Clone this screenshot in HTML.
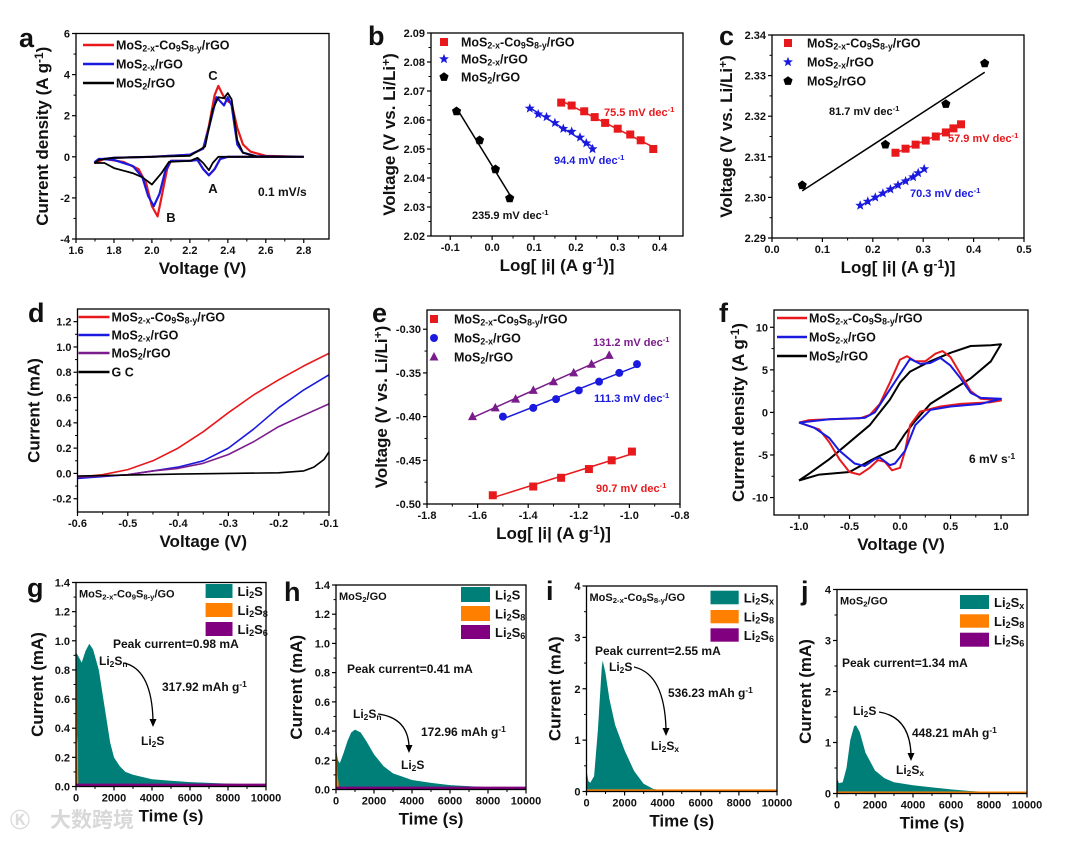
<!DOCTYPE html>
<html><head><meta charset="utf-8"><style>
html,body{margin:0;padding:0;background:#fff;}
svg{display:block;font-family:"Liberation Sans",Arial,sans-serif;font-weight:bold;}
</style></head><body>
<svg id="fig" width="1080" height="842" viewBox="0 0 1080 842" xmlns="http://www.w3.org/2000/svg"></svg>
<script>
// ---------- DATA ----------
// panel a: CV at 0.1 mV/s
const aRedV=[2.8,2.4,2.36,2.33,2.3,2.27,2.24,2.2,2.1,2.08,2.05,2.03,2.0,1.97,1.93,1.85,1.75,1.7,1.72,1.8,2.0,2.2,2.27,2.3,2.33,2.35,2.38,2.4,2.42,2.45,2.48,2.52,2.6,2.8];
const aRedI=[0,0,-0.1,-0.6,-0.9,-0.6,-0.15,-0.2,-0.2,-0.6,-2.0,-2.9,-2.4,-1.3,-0.6,-0.25,-0.1,-0.3,-0.15,-0.05,0,0.1,0.4,1.5,3.0,3.45,2.9,2.7,2.6,1.4,0.6,0.25,0.05,0];
const aBlueV=[2.8,2.4,2.36,2.33,2.3,2.27,2.24,2.2,2.1,2.07,2.04,2.01,1.98,1.95,1.9,1.8,1.72,1.7,1.72,1.8,2.0,2.2,2.27,2.3,2.34,2.36,2.38,2.4,2.42,2.45,2.48,2.55,2.8];
const aBlueI=[0,0,-0.1,-0.6,-0.9,-0.6,-0.15,-0.2,-0.2,-0.7,-1.8,-2.4,-1.9,-1.0,-0.45,-0.15,-0.1,-0.25,-0.12,-0.05,0,0.1,0.4,1.4,2.9,2.7,2.5,2.9,2.5,0.6,0.2,0.03,0];
const aBlkV=[2.8,2.35,2.32,2.3,2.27,2.24,2.2,2.09,2.05,2.0,1.95,1.9,1.8,1.75,1.7,1.72,1.8,2.2,2.28,2.32,2.35,2.38,2.4,2.42,2.45,2.48,2.55,2.8];
const aBlkI=[0,0,-0.3,-0.65,-0.3,-0.05,-0.2,-0.25,-0.8,-1.35,-1.0,-0.8,-0.55,-0.3,-0.3,-0.15,-0.05,0.05,0.5,2.3,2.9,2.85,3.1,2.8,0.8,0.2,0.02,0];
// panel b: Tafel
const bBlkX=[-0.085,-0.03,0.008,0.042], bBlkY=[2.063,2.053,2.043,2.033];
const bBluX=[0.09,0.11,0.13,0.15,0.17,0.19,0.21,0.225,0.24], bBluY=[2.064,2.062,2.061,2.059,2.057,2.056,2.054,2.052,2.050];
const bRedX=[0.165,0.19,0.22,0.245,0.27,0.3,0.33,0.355,0.385], bRedY=[2.066,2.065,2.063,2.061,2.059,2.057,2.055,2.053,2.050];
// panel c
const cBlkX=[0.06,0.225,0.345,0.422], cBlkY=[2.303,2.313,2.323,2.333];
const cRedX=[0.245,0.265,0.285,0.305,0.325,0.345,0.36,0.375], cRedY=[2.311,2.312,2.313,2.314,2.315,2.316,2.317,2.318];
const cBluX=[0.175,0.19,0.205,0.22,0.235,0.25,0.265,0.28,0.29,0.302], cBluY=[2.298,2.299,2.300,2.301,2.302,2.303,2.304,2.305,2.306,2.307];
// panel d: LSV
const dV=[-0.6,-0.55,-0.5,-0.45,-0.4,-0.35,-0.3,-0.25,-0.2,-0.15,-0.1];
const dRed=[-0.03,-0.01,0.03,0.1,0.2,0.33,0.48,0.62,0.74,0.85,0.95];
const dBlue=[-0.04,-0.025,-0.01,0.02,0.05,0.1,0.2,0.35,0.52,0.66,0.78];
const dPur=[-0.03,-0.02,-0.01,0.02,0.04,0.08,0.15,0.25,0.37,0.46,0.55];
const dGcV=[-0.6,-0.4,-0.2,-0.15,-0.13,-0.11,-0.1], dGc=[-0.02,-0.005,0.005,0.02,0.05,0.11,0.17];
// panel e
const ePurX=[-1.62,-1.53,-1.45,-1.38,-1.3,-1.22,-1.15,-1.08], ePurY=[-0.40,-0.39,-0.38,-0.37,-0.36,-0.35,-0.34,-0.33];
const eBluX=[-1.5,-1.38,-1.29,-1.2,-1.12,-1.04,-0.97], eBluY=[-0.40,-0.39,-0.38,-0.37,-0.36,-0.35,-0.34];
const eRedX=[-1.54,-1.38,-1.27,-1.16,-1.07,-0.99], eRedY=[-0.49,-0.48,-0.47,-0.46,-0.45,-0.44];
// panel f: symmetric cell CV
const fRedV=[-1.0,-0.9,-0.7,-0.4,-0.3,-0.2,-0.1,0,0.07,0.15,0.25,0.35,0.42,0.5,0.6,0.7,0.8,1.0,0.9,0.6,0.4,0.2,0.1,0.05,0,-0.08,-0.15,-0.22,-0.3,-0.4,-0.5,-0.6,-0.7,-0.8,-1.0];
const fRedI=[-1.2,-0.9,-0.8,-0.7,-0.3,1.0,3.5,6.2,6.6,6.0,6.0,6.9,7.2,6.5,4.5,2.5,1.6,1.4,1.2,1.0,0.7,0.1,-1.5,-4.5,-6.5,-6.8,-5.8,-5.6,-6.5,-7.3,-7.0,-5.5,-3.5,-2.0,-1.2];
const fBluV=[-1.0,-0.7,-0.35,-0.25,-0.15,0,0.1,0.2,0.3,0.4,0.5,0.6,0.7,0.8,1.0,0.8,0.5,0.3,0.15,0.05,-0.05,-0.1,-0.2,-0.25,-0.35,-0.45,-0.6,-0.7,-0.85,-1.0];
const fBluI=[-1.2,-0.8,-0.65,0,1.8,4.5,6.3,5.7,5.8,6.4,5.5,4.0,2.3,1.7,1.6,1.0,0.7,0.3,-1.5,-4.5,-6.0,-6.2,-5.3,-5.5,-6.3,-6.0,-4.5,-3.0,-1.8,-1.2];
const fBlkV=[-1.0,-0.8,-0.5,-0.3,-0.2,-0.05,0.05,0.15,0.3,0.5,0.7,0.9,1.0,0.9,0.7,0.5,0.3,0.2,0.1,0,-0.1,-0.2,-0.3,-0.5,-0.7,-0.9,-1.0];
const fBlkI=[-8.0,-7.3,-7.0,-5.7,-5.1,-4.3,-2.5,-1.0,1.0,2.5,4.0,6.0,8.0,7.9,7.8,7.0,6.0,5.4,4.8,3.5,1.5,0,-1.5,-3.5,-5.5,-7.2,-8.0];
// panels g-j: potentiostatic deposition
const gT=[0,100,300,500,700,900,1200,1500,1800,2000,2300,2600,3000,4000,5000,6000,8000,10000];
const gI=[0.92,0.9,0.85,0.93,0.98,0.94,0.8,0.55,0.3,0.2,0.14,0.1,0.08,0.05,0.04,0.03,0.02,0.01];
const hT=[0,100,200,400,600,800,1000,1300,1600,2000,2500,3000,4000,5000,6000,8000,10000];
const hI=[0.28,0.2,0.18,0.25,0.33,0.39,0.41,0.39,0.33,0.24,0.16,0.11,0.065,0.045,0.03,0.015,0.01];
const iT=[0,100,200,400,600,800,850,1000,1200,1500,2000,2500,3000,3500,4000,5000,10000];
const iI=[0.4,0.2,0.17,0.3,1.2,2.4,2.55,2.3,1.8,1.3,0.8,0.4,0.15,0.05,0.02,0.01,0.01];
const jT=[0,100,300,500,700,900,1000,1200,1500,2000,2500,3000,4000,5000,6000,7000,8000,9000,10000];
const jI=[0.3,0.2,0.22,0.5,1.05,1.32,1.34,1.2,0.8,0.45,0.3,0.22,0.16,0.12,0.08,0.05,0.03,0.01,0];
// tick labels
const aXT=[1.6,1.8,2.0,2.2,2.4,2.6,2.8], aYT=[-4,-2,0,2,4,6];
const bXT=[-0.1,0.0,0.1,0.2,0.3,0.4], bYT=[2.02,2.03,2.04,2.05,2.06,2.07,2.08,2.09];
const cXT=[0.0,0.1,0.2,0.3,0.4,0.5], cYT=[2.29,2.30,2.31,2.32,2.33,2.34];
const dXT=[-0.6,-0.5,-0.4,-0.3,-0.2,-0.1], dYT=[-0.2,0.0,0.2,0.4,0.6,0.8,1.0,1.2];
const eXT=[-1.8,-1.6,-1.4,-1.2,-1.0,-0.8], eYT=[-0.50,-0.45,-0.40,-0.35,-0.30];
const fXT=[-1.0,-0.5,0.0,0.5,1.0], fYT=[-10,-5,0,5,10];
const tXT=[0,2000,4000,6000,8000,10000], ghYT=[0.0,0.2,0.4,0.6,0.8,1.0,1.2,1.4], ijYT=[0,1,2,3,4];

// ---------- HELPERS ----------
const NS='http://www.w3.org/2000/svg';
const svg=document.getElementById('fig');
function mk(tag,attrs,name,inter,parent){
  const el=document.createElementNS(NS,tag);
  for(const k in attrs) el.setAttribute(k,attrs[k]);
  
  
  (parent||svg).appendChild(el);
  return el;
}
function rich(el,str){
  const re=/([_^])\{([^}]*)\}|([^_^]+)/g;let m;
  while((m=re.exec(str))){
    const t=document.createElementNS(NS,'tspan');
    if(m[3]){t.textContent=m[3];}
    else{t.textContent=m[2];t.setAttribute('font-size','70%');t.setAttribute('baseline-shift',m[1]=='_'?'-25%':'45%');}
    el.appendChild(t);
  }
  return el;
}
function txt(x,y,str,size,name,opt){
  opt=opt||{};
  const a={x:x,y:y,'font-size':size,fill:opt.fill||'#111'};
  if(opt.anchor)a['text-anchor']=opt.anchor;
  if(opt.rot)a.transform='rotate(-90 '+x+' '+y+')';
  return rich(mk('text',a,name,false),str);
}
function panel(p){
  const sx=v=>p.L+(v-p.x0)/(p.x1-p.x0)*(p.R-p.L);
  const sy=v=>p.B-(v-p.y0)/(p.y1-p.y0)*(p.B-p.T);
  p.sx=sx;p.sy=sy;
  mk('clipPath',{id:'clip'+p.id},'clip-'+p.id,false).appendChild(Object.assign(document.createElementNS(NS,'rect'),{}));
  const cp=document.getElementById('clip'+p.id).firstChild;
  cp.setAttribute('x',p.L);cp.setAttribute('y',p.T);cp.setAttribute('width',p.R-p.L);cp.setAttribute('height',p.B-p.T);
  p.g=mk('g',{'clip-path':'url(#clip'+p.id+')'},'plot-area-'+p.id,false);
  // ticks
  p.xt.forEach((v,i)=>{
    const x=sx(v);
    mk('line',{x1:x,x2:x,y1:p.B,y2:p.B+4,stroke:'#000','stroke-width':1.2},'x-tick-'+p.id,false);
    txt(x,p.B+15,v.toFixed(p.xd),11,'x-tick-label-'+p.id,{anchor:'middle'});
    if(i<p.xt.length-1){const xm=sx((v+p.xt[i+1])/2);mk('line',{x1:xm,x2:xm,y1:p.B,y2:p.B+2.5,stroke:'#000','stroke-width':1},'x-minor-tick-'+p.id,false);}
  });
  p.yt.forEach((v,i)=>{
    const y=sy(v);
    mk('line',{x1:p.L-4,x2:p.L,y1:y,y2:y,stroke:'#000','stroke-width':1.2},'y-tick-'+p.id,false);
    txt(p.L-6,y+4,v.toFixed(p.yd),11,'y-tick-label-'+p.id,{anchor:'end'});
    if(i<p.yt.length-1){const ym=sy((v+p.yt[i+1])/2);mk('line',{x1:p.L-2.5,x2:p.L,y1:ym,y2:ym,stroke:'#000','stroke-width':1},'y-minor-tick-'+p.id,false);}
  });
  txt((p.L+p.R)/2,p.B+35,p.xl,17,'x-axis-title-'+p.id,{anchor:'middle'});
  txt(p.L-p.yo,(p.T+p.B)/2,p.yl,17,'y-axis-title-'+p.id,{anchor:'middle',rot:true});
  txt(p.lx,p.ly,p.id,27,'panel-label-'+p.id);
  return p;
}
function frame(p){mk('rect',{x:p.L,y:p.T,width:p.R-p.L,height:p.B-p.T,fill:'none',stroke:'#000','stroke-width':1.3},'plot-frame-'+p.id,false);}
function line(p,xs,ys,col,w,name){
  const d=xs.map((v,i)=>(i?'L':'M')+p.sx(v).toFixed(1)+','+p.sy(ys[i]).toFixed(1)).join('');
  return mk('path',{d:d,fill:'none',stroke:col,'stroke-width':w,'stroke-linejoin':'round'},name,false,p.g);
}
function area(p,xs,ys,col,name){
  let d='M'+p.sx(xs[0])+','+p.sy(0);
  xs.forEach((v,i)=>{d+='L'+p.sx(v).toFixed(1)+','+p.sy(ys[i]).toFixed(1);});
  d+='L'+p.sx(xs[xs.length-1])+','+p.sy(0)+'Z';
  return mk('path',{d:d,fill:col},name,false,p.g);
}
function fit(xs,ys){const n=xs.length;let mx=0,my=0;xs.forEach((x,i)=>{mx+=x;my+=ys[i];});mx/=n;my/=n;let sxy=0,sxx=0;xs.forEach((x,i)=>{sxy+=(x-mx)*(ys[i]-my);sxx+=(x-mx)*(x-mx);});const k=sxy/sxx;return x=>my+k*(x-mx);}
function fitLine(p,xs,ys,col,name){const f=fit(xs,ys);const a=Math.min(...xs),b=Math.max(...xs);line(p,[a,b],[f(a),f(b)],col,1.5,name);}
function marker(p,x,y,shape,col,name,px,py){
  const X=px!==undefined?px:p.sx(x),Y=py!==undefined?py:p.sy(y);
  const par=px!==undefined?svg:p.g;
  if(shape=='sq')return mk('rect',{x:X-4,y:Y-4,width:8,height:8,fill:col},name,false,par);
  if(shape=='ci')return mk('circle',{cx:X,cy:Y,r:4,fill:col},name,false,par);
  let pts=[];
  if(shape=='tri')pts=[[0,-5],[4.5,3.5],[-4.5,3.5]];
  if(shape=='pent')for(let k=0;k<5;k++){const a=-Math.PI/2+k*2*Math.PI/5;pts.push([4.8*Math.cos(a),4.8*Math.sin(a)]);}
  if(shape=='star')for(let k=0;k<10;k++){const a=-Math.PI/2+k*Math.PI/5,r=k%2?2.2:5.2;pts.push([r*Math.cos(a),r*Math.sin(a)]);}
  return mk('polygon',{points:pts.map(q=>(X+q[0]).toFixed(1)+','+(Y+q[1]).toFixed(1)).join(' '),fill:col},name,false,par);
}
function legLine(x1,x2,y,col,label,name){mk('line',{x1:x1,x2:x2,y1:y,y2:y,stroke:col,'stroke-width':2.6},name+'-swatch',false);txt(x2+2,y+4.5,label,12.5,name,{});}
function legMark(x,tx,y,shape,col,label,name){marker(null,0,0,shape,col,name+'-marker',x,y);txt(tx,y+4.5,label,12.5,name,{});}
function legBox(x1,x2,y1,y2,col,label,tx,name){mk('rect',{x:x1,y:y1,width:x2-x1,height:y2-y1,fill:col},name+'-swatch',false);txt(tx,(y1+y2)/2+5,label,13,name,{});}
function arrow(x1,y1,x2,y2,name){
  const cx=x1+(x2-x1)*0.95,cy=y1+(y2-y1)*0.1;
  mk('path',{d:'M'+x1+','+y1+' Q'+cx+','+cy+' '+x2+','+(y2-6),fill:'none',stroke:'#000','stroke-width':1.3},name,false);
  mk('polygon',{points:(x2-3.5)+','+(y2-7)+' '+(x2+3.5)+','+(y2-7)+' '+x2+','+(y2+1),fill:'#000'},name+'-head',false);
}
const RED='#e8191c',BLUE='#1a1adf',BLK='#000',PUR='#7b1c8c',TEAL='#007f79',ORA='#ff8000',VIO='#800080';
const L1='MoS_{2-x}-Co_{9}S_{8-y}/rGO',L2='MoS_{2-x}/rGO',L3='MoS_{2}/rGO';
const VLI='Voltage (V vs. Li/Li^{+})',LOGI='Log[ |i| (A g^{-1})]';

// ---------- PANEL A ----------
const pa=panel({id:'a',L:76,R:329,T:33.5,B:239,x0:1.6,x1:2.933,y0:-4,y1:6,xt:aXT,yt:aYT,xd:1,yd:0,xl:'Voltage (V)',yl:'Current density (A g^{-1})',yo:28,lx:19,ly:47});
line(pa,aRedV,aRedI,RED,2.2,'cv-curve-red');
line(pa,aBlueV,aBlueI,BLUE,2.2,'cv-curve-blue');
line(pa,aBlkV,aBlkI,BLK,1.8,'cv-curve-black');
frame(pa);
legLine(83,114,45,RED,L1,'legend-entry-a-1');legLine(83,114,64,BLUE,L2,'legend-entry-a-2');legLine(83,114,83,BLK,L3,'legend-entry-a-3');
txt(213,80,'C',13,'peak-label-c',{anchor:'middle'});txt(213,193,'A',13,'peak-label-a',{anchor:'middle'});txt(171,222,'B',13,'peak-label-b',{anchor:'middle'});
txt(258,196,'0.1 mV/s',12,'scan-rate-label-a');

// ---------- PANEL B ----------
const pb=panel({id:'b',L:431,R:683,T:33,B:236,x0:-0.146,x1:0.456,y0:2.02,y1:2.09,xt:bXT,yt:bYT,xd:1,yd:2,xl:LOGI,yl:VLI,yo:36,lx:368,ly:45});
fitLine(pb,bBlkX,bBlkY,BLK,'fit-line-b-black');fitLine(pb,bBluX,bBluY,BLUE,'fit-line-b-blue');fitLine(pb,bRedX,bRedY,RED,'fit-line-b-red');
bBlkX.forEach((x,i)=>marker(pb,x,bBlkY[i],'pent',BLK,'point-b-black'));
bBluX.forEach((x,i)=>marker(pb,x,bBluY[i],'star',BLUE,'point-b-blue'));
bRedX.forEach((x,i)=>marker(pb,x,bRedY[i],'sq',RED,'point-b-red'));
frame(pb);
legMark(444,461,42,'sq',RED,L1,'legend-entry-b-1');legMark(444,461,59,'star',BLUE,L2,'legend-entry-b-2');legMark(444,461,77,'pent',BLK,L3,'legend-entry-b-3');
txt(604,116,'75.5 mV dec^{-1}',11,'slope-label-b-red',{fill:RED});
txt(554,164,'94.4 mV dec^{-1}',11,'slope-label-b-blue',{fill:BLUE});
txt(472,219,'235.9 mV dec^{-1}',11,'slope-label-b-black');

// ---------- PANEL C ----------
const pc=panel({id:'c',L:772,R:1024,T:35,B:238,x0:0,x1:0.5,y0:2.29,y1:2.34,xt:cXT,yt:cYT,xd:1,yd:2,xl:LOGI,yl:VLI,yo:40,lx:719,ly:45});
fitLine(pc,cBlkX,cBlkY,BLK,'fit-line-c-black');fitLine(pc,cRedX,cRedY,RED,'fit-line-c-red');fitLine(pc,cBluX,cBluY,BLUE,'fit-line-c-blue');
cBlkX.forEach((x,i)=>marker(pc,x,cBlkY[i],'pent',BLK,'point-c-black'));
cRedX.forEach((x,i)=>marker(pc,x,cRedY[i],'sq',RED,'point-c-red'));
cBluX.forEach((x,i)=>marker(pc,x,cBluY[i],'star',BLUE,'point-c-blue'));
frame(pc);
legMark(788,807,43,'sq',RED,L1,'legend-entry-c-1');legMark(788,807,62,'star',BLUE,L2,'legend-entry-c-2');legMark(788,807,81,'pent',BLK,L3,'legend-entry-c-3');
txt(829,115,'81.7 mV dec^{-1}',11,'slope-label-c-black');
txt(948,142,'57.9 mV dec^{-1}',11,'slope-label-c-red',{fill:RED});
txt(910,197,'70.3 mV dec^{-1}',11,'slope-label-c-blue',{fill:BLUE});

// ---------- PANEL D ----------
const pd=panel({id:'d',L:77.5,R:329,T:309,B:512,x0:-0.6,x1:-0.1,y0:-0.305,y1:1.30,xt:dXT,yt:dYT,xd:1,yd:1,xl:'Voltage (V)',yl:'Current (mA)',yo:38,lx:28,ly:322});
line(pd,dV,dRed,RED,1.6,'lsv-curve-red');line(pd,dV,dBlue,BLUE,1.6,'lsv-curve-blue');line(pd,dV,dPur,PUR,1.6,'lsv-curve-purple');line(pd,dGcV,dGc,BLK,1.6,'lsv-curve-gc');
frame(pd);
legLine(78.5,109.5,317,RED,L1,'legend-entry-d-1');legLine(78.5,109.5,335,BLUE,L2,'legend-entry-d-2');legLine(78.5,109.5,353,PUR,L3,'legend-entry-d-3');legLine(78.5,109.5,372,BLK,'G C','legend-entry-d-4');

// ---------- PANEL E ----------
const pe=panel({id:'e',L:427,R:680,T:310,B:504,x0:-1.8,x1:-0.8,y0:-0.50,y1:-0.278,xt:eXT,yt:eYT,xd:1,yd:2,xl:LOGI,yl:VLI,yo:40,lx:372,ly:322});
fitLine(pe,ePurX,ePurY,PUR,'fit-line-e-purple');fitLine(pe,eBluX,eBluY,BLUE,'fit-line-e-blue');fitLine(pe,eRedX,eRedY,RED,'fit-line-e-red');
ePurX.forEach((x,i)=>marker(pe,x,ePurY[i],'tri',PUR,'point-e-purple'));
eBluX.forEach((x,i)=>marker(pe,x,eBluY[i],'ci',BLUE,'point-e-blue'));
eRedX.forEach((x,i)=>marker(pe,x,eRedY[i],'sq',RED,'point-e-red'));
frame(pe);
legMark(434,454,319,'sq',RED,L1,'legend-entry-e-1');legMark(434,454,338,'ci',BLUE,L2,'legend-entry-e-2');legMark(434,454,357,'tri',PUR,L3,'legend-entry-e-3');
txt(593,346,'131.2 mV dec^{-1}',11,'slope-label-e-purple',{fill:PUR});
txt(594,402,'111.3 mV dec^{-1}',11,'slope-label-e-blue',{fill:BLUE});
txt(596,492,'90.7 mV dec^{-1}',11,'slope-label-e-red',{fill:RED});

// ---------- PANEL F ----------
const pf=panel({id:'f',L:774,R:1028,T:310,B:515,x0:-1.248,x1:1.267,y0:-12.05,y1:12.03,xt:fXT,yt:fYT,xd:1,yd:0,xl:'Voltage (V)',yl:'Current density (A g^{-1})',yo:30,lx:719,ly:322});
line(pf,fBlkV,fBlkI,BLK,2,'cv-loop-black');line(pf,fRedV,fRedI,RED,2,'cv-loop-red');line(pf,fBluV,fBluI,BLUE,2,'cv-loop-blue');
frame(pf);
legLine(777,807,318,RED,L1,'legend-entry-f-1');legLine(777,807,337,BLUE,L2,'legend-entry-f-2');legLine(777,807,356,BLK,L3,'legend-entry-f-3');
txt(969,463,'6 mV s^{-1}',12,'scan-rate-label-f');

// ---------- PANELS G-J ----------
function dep(o){
  const p=panel({id:o.id,L:o.L,R:o.R,T:o.T,B:o.B,x0:0,x1:10000,y0:0,y1:o.ymax,xt:tXT,yt:o.yt,xd:0,yd:o.yd,xl:'Time (s)',yl:'Current (mA)',yo:o.yo,lx:o.lx,ly:o.ly});
  area(p,o.t,o.i,TEAL,'deposition-area-'+o.id);
  area(p,o.st,o.si,o.sc,'spike-'+o.id);
  area(p,[0,10000],[o.bh,o.bh],o.bc,'baseline-band-'+o.id);
  frame(p);
  txt(o.L+3,o.T+15,o.title,11,'sample-label-'+o.id);
  o.box.forEach((b,k)=>legBox(o.bx1,o.bx2,b[0],b[1],[TEAL,ORA,VIO][k],o.lab[k],o.bx2+5,'legend-entry-'+o.id+'-'+(k+1)));
  txt(o.pk[0],o.pk[1],o.pk[2],12,'peak-current-label-'+o.id);
  txt(o.s1[0],o.s1[1],o.s1[2],12,'start-species-label-'+o.id);
  arrow(o.ar[0],o.ar[1],o.ar[2],o.ar[3],'conversion-arrow-'+o.id);
  txt(o.cap[0],o.cap[1],o.cap[2],12,'capacity-label-'+o.id);
  txt(o.s2[0],o.s2[1],o.s2[2],12,'end-species-label-'+o.id);
}
dep({id:'g',L:76,R:266,T:582.5,B:786.5,ymax:1.4,yt:ghYT,yd:1,yo:33,lx:27,ly:597,t:gT,i:gI,st:[0,20,60,100,120],si:[1.4,1.0,0.35,0.3,0],sc:ORA,bh:0.02,bc:VIO,
  title:'MoS_{2-x}-Co_{9}S_{8-y}/GO',bx1:205.6,bx2:232.5,box:[[584,598],[603,617],[622,636]],lab:['Li_{2}S','Li_{2}S_{8}','Li_{2}S_{6}'],
  pk:[113,648,'Peak current=0.98 mA'],s1:[99,665,'Li_{2}S_{n}'],ar:[124,663,153,726],cap:[162,691,'317.92 mAh g^{-1}'],s2:[141,745,'Li_{2}S']});
dep({id:'h',L:336,R:526,T:585,B:789.5,ymax:1.4,yt:ghYT,yd:1,yo:34,lx:284,ly:601,t:hT,i:hI,st:[0,30,80,130,150],si:[0.3,0.25,0.1,0.05,0],sc:ORA,bh:0.02,bc:VIO,
  title:'MoS_{2}/GO',bx1:461,bx2:490,box:[[587,602],[606,621],[625,639]],lab:['Li_{2}S','Li_{2}S_{8}','Li_{2}S_{6}'],
  pk:[347,673,'Peak current=0.41 mA'],s1:[353,718,'Li_{2}S_{n}'],ar:[378,714,409,752],cap:[421,736,'172.96 mAh g^{-1}'],s2:[401,769,'Li_{2}S']});
dep({id:'i',L:586.5,R:777,T:586,B:791.5,ymax:4,yt:ijYT,yd:0,yo:26,lx:546,ly:600,t:iT,i:iI,st:[0,15,40],si:[1.0,0.6,0],sc:VIO,bh:0.04,bc:ORA,
  title:'MoS_{2-x}-Co_{9}S_{8-y}/GO',bx1:710.5,bx2:738.7,box:[[590.7,604.3],[610,623.3],[628.3,641.7]],lab:['Li_{2}S_{x}','Li_{2}S_{8}','Li_{2}S_{6}'],
  pk:[595,655,'Peak current=2.55 mA'],s1:[609,671,'Li_{2}S'],ar:[634,667,666,735],cap:[668,697,'536.23 mAh g^{-1}'],s2:[651,750,'Li_{2}S_{x}']});
dep({id:'j',L:837,R:1027,T:589.5,B:793.5,ymax:4,yt:ijYT,yd:0,yo:26,lx:801,ly:600,t:jT,i:jI,st:[0,15,40],si:[0.8,0.5,0],sc:VIO,bh:0.04,bc:ORA,
  title:'MoS_{2}/GO',bx1:960,bx2:989,box:[[595,609],[614.3,627.7],[632.7,646.7]],lab:['Li_{2}S_{x}','Li_{2}S_{8}','Li_{2}S_{6}'],
  pk:[842,667,'Peak current=1.34 mA'],s1:[853,715,'Li_{2}S'],ar:[879,712,911,760],cap:[912,737,'448.21 mAh g^{-1}'],s2:[896,774,'Li_{2}S_{x}']});

// watermark
const wm=mk('text',{x:50,y:827,'font-size':21,fill:'#d8d8d8','font-family':'"Liberation Sans","Noto Sans CJK SC",sans-serif'},'watermark',false);
wm.textContent='大数跨境';
mk('text',{x:10,y:827,'font-size':20,fill:'#dcdcdc'},'watermark-logo',false).textContent='\u24C0';
</script>
</body></html>
